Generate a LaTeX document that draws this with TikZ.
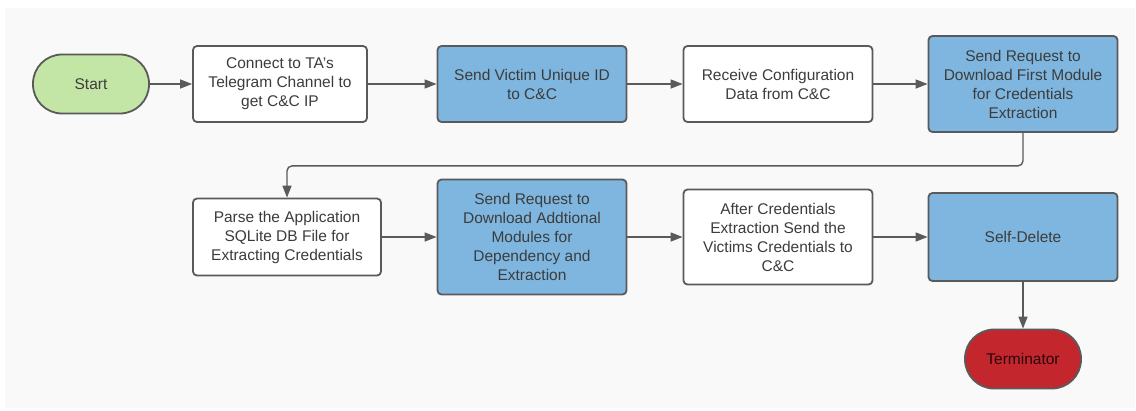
\documentclass[tikz,border=0pt]{standalone}
\usepackage{fontspec}
\setmainfont{Liberation Sans}
\usetikzlibrary{arrows.meta}
\definecolor{bggray}{HTML}{F9F9F9}
\definecolor{edgegray}{HTML}{5A5A5A}
\definecolor{txtgray}{HTML}{3C3C3C}
\definecolor{startgreen}{HTML}{C3E6A6}
\definecolor{procblue}{HTML}{7EB6DF}
\definecolor{termred}{HTML}{C4262E}
\tikzset{
  base/.style={draw=edgegray, line width=1.8pt, text=txtgray, align=center,
    font=\fontsize{15.5}{19}\selectfont, inner sep=2pt},
  plainbox/.style={base, rectangle, rounded corners=4pt, fill=white},
  bluebox/.style={base, rectangle, rounded corners=4pt, fill=procblue},
  terminal/.style={base, rectangle, rounded corners=29pt, minimum width=116pt, minimum height=59pt},
  flow/.style={draw=edgegray, line width=1.4pt, -{Triangle[length=12pt,width=9pt]}, rounded corners=5pt}
}
\begin{document}
\begin{tikzpicture}[x=1pt,y=-1pt]
\useasboundingbox (0,0) rectangle (1136,410);
\fill[white] (0,0) rectangle (1136,410);
\fill[bggray] (5,8) rectangle (1135,408);

\node[terminal, fill=startgreen] (start) at (91,84) {Start};
\node[plainbox, minimum width=174pt, minimum height=76pt] (conn) at (280,84) {Connect to TA's\\Telegram Channel to\\get C\&C IP};
\node[bluebox, minimum width=189pt, minimum height=76pt] (vid) at (532,84) {Send Victim Unique ID\\to C\&C};
\node[plainbox, minimum width=189pt, minimum height=76pt] (cfg) at (778,84) {Receive Configuration\\Data from C\&C};
\node[bluebox, minimum width=189pt, minimum height=96pt] (mod1) at (1023,84) {Send Request to\\Download First Module\\for Credentials\\Extraction};

\node[plainbox, minimum width=188pt, minimum height=77pt] (parse) at (287,237) {Parse the Application\\SQLite DB File for\\Extracting Credentials};
\node[bluebox, minimum width=189pt, minimum height=115pt] (mod2) at (532,237) {Send Request to\\Download Addtional\\Modules for\\Dependency and\\Extraction};
\node[plainbox, minimum width=189pt, minimum height=95pt] (send) at (778,237) {After Credentials\\Extraction Send the\\Victims Credentials to\\C\&C};
\node[bluebox, minimum width=189pt, minimum height=88pt] (del) at (1023,237) {Self-Delete};
\node[terminal, fill=termred, text=black!80!termred] (term) at (1023,359) {Terminator};

\draw[flow] (start) -- (conn);
\draw[flow] (conn) -- (vid);
\draw[flow] (vid) -- (cfg);
\draw[flow] (cfg) -- (mod1);
\draw[flow] (mod1.south) -- ++(0,33) -| (parse.north);
\draw[flow] (parse) -- (mod2);
\draw[flow] (mod2) -- (send);
\draw[flow] (send) -- (del);
\draw[flow] (del) -- (term);
\end{tikzpicture}
\end{document}
